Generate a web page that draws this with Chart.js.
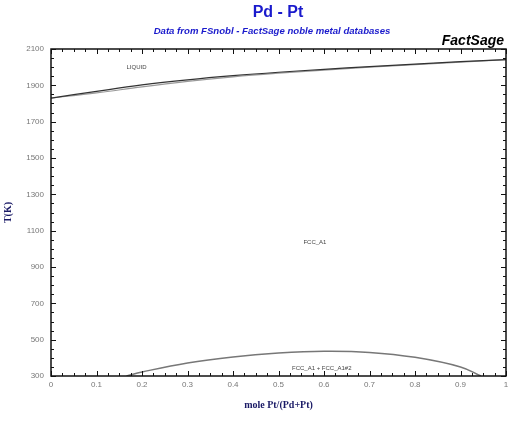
<!DOCTYPE html>
<html>
<head>
<meta charset="utf-8">
<script src="https://cdn.jsdelivr.net/npm/chart.js@4.4.1/dist/chart.umd.min.js"></script>
<style>
html,body{margin:0;padding:0;background:#fff;}
#wrap{width:516px;height:422px;position:relative;}
</style>
</head>
<body>
<div id="wrap"><canvas id="c" width="516" height="422"></canvas></div>
<script>
// ---- data ----
const liquidusX = [0, 0.1, 0.2, 0.3, 0.4, 0.5, 0.6, 0.7, 0.8, 0.9, 1];
const liquidusT = [1830, 1867, 1902, 1930, 1953, 1972, 1988, 2003, 2017, 2030, 2042];
const solidusX  = [0, 0.1, 0.2, 0.3, 0.4, 0.5, 0.6, 0.7, 0.8, 0.9, 1];
const solidusT  = [1830, 1858, 1892, 1922, 1947, 1967, 1984, 2000, 2014, 2028, 2042];
const gapX = [0.166, 0.2, 0.3, 0.4, 0.5, 0.6, 0.7, 0.8, 0.9, 0.945];
const gapT = [300, 322, 372, 405, 426, 436, 430, 403, 350, 300];
const xTicks = [0, 0.1, 0.2, 0.3, 0.4, 0.5, 0.6, 0.7, 0.8, 0.9, 1];
const yTicks = [300, 500, 700, 900, 1100, 1300, 1500, 1700, 1900, 2100];
const phaseLabels = ["LIQUID", "FCC_A1", "FCC_A1 + FCC_A1#2"];
const phaseLabelPos = [[0.188, 2000], [0.58, 1035], [0.595, 340]];
const titleText = "Pd - Pt";
const subtitleText = "Data from FSnobl - FactSage noble metal databases";
const brandText = "FactSage";
const xTitle = "mole Pt/(Pd+Pt)";
const yTitle = "T(K)";

function pts(xs, ys){ return xs.map((x,i)=>({x:x, y:ys[i]})); }

const framePlugin = {
  id: 'frame',
  afterDraw(chart){
    const ctx = chart.ctx;
    const xs = chart.scales.x, ys = chart.scales.y;
    const a = chart.chartArea;
    ctx.save();
    ctx.strokeStyle = '#111';
    ctx.lineWidth = 1.5;
    ctx.strokeRect(a.left, a.top, a.right - a.left, a.bottom - a.top);
    ctx.lineWidth = 1;
    for (let v = xs.min; v <= xs.max + 1e-9; v += 0.025) {
      const major = Math.abs(v*10 - Math.round(v*10)) < 1e-6;
      const len = major ? 5 : 3;
      const px = Math.round(xs.getPixelForValue(v)) + 0.5;
      ctx.beginPath();
      ctx.moveTo(px, a.bottom); ctx.lineTo(px, a.bottom - len);
      ctx.moveTo(px, a.top); ctx.lineTo(px, a.top + len);
      ctx.stroke();
    }
    for (let v = ys.min; v <= ys.max + 1e-9; v += 50) {
      const major = ((v - 300) % 200) === 0;
      const len = major ? 5 : 3;
      const py = Math.round(ys.getPixelForValue(v)) + 0.5;
      ctx.beginPath();
      ctx.moveTo(a.left, py); ctx.lineTo(a.left + len, py);
      ctx.moveTo(a.right, py); ctx.lineTo(a.right - len, py);
      ctx.stroke();
    }
    ctx.fillStyle = '#444';
    ctx.font = '6px "Liberation Sans", Arial, sans-serif';
    ctx.textAlign = 'center';
    ctx.textBaseline = 'middle';
    phaseLabels.forEach((t,i)=>{
      ctx.fillText(t, xs.getPixelForValue(phaseLabelPos[i][0]), ys.getPixelForValue(phaseLabelPos[i][1]));
    });
    ctx.fillStyle = '#1a1acc';
    ctx.font = 'bold 16px "Liberation Sans", Arial, sans-serif';
    ctx.fillText(titleText, 278, 13);
    ctx.font = 'italic bold 9.6px "Liberation Sans", Arial, sans-serif';
    ctx.fillText(subtitleText, 272, 31);
    ctx.fillStyle = '#000';
    ctx.font = 'italic bold 14px "Liberation Sans", Arial, sans-serif';
    ctx.textAlign = 'right';
    ctx.textBaseline = 'alphabetic';
    ctx.fillText(brandText, 504, 45);
    ctx.restore();
  }
};

new Chart(document.getElementById('c'), {
  type: 'scatter',
  data: {
    datasets: [
      { label: 'liquidus', data: pts(liquidusX, liquidusT), showLine: true, borderColor: '#333', borderWidth: 1.2, pointRadius: 0, tension: 0.4 },
      { label: 'solidus', data: pts(solidusX, solidusT), showLine: true, borderColor: '#999', borderWidth: 1.2, pointRadius: 0, tension: 0.4 },
      { label: 'gap', data: pts(gapX, gapT), showLine: true, borderColor: '#777', borderWidth: 1.5, pointRadius: 0, tension: 0.4 }
    ]
  },
  options: {
    responsive: false,
    animation: false,
    devicePixelRatio: 1,
    layout: { padding: { top: 49, right: 10, left: 0, bottom: 0 } },
    plugins: { legend: { display: false }, tooltip: { enabled: false }, title: { display: false } },
    scales: {
      x: {
        type: 'linear', min: 0, max: 1,
        afterFit(s){ s.height = 46; },
        afterBuildTicks(s){ s.ticks = xTicks.map(v=>({value:v})); },
        grid: { display: false, drawTicks: false },
        border: { display: false },
        ticks: { padding: 4, color: '#777', font: { size: 8, family: '"Liberation Sans", Arial, sans-serif' },
                 callback: v => String(Number(v.toFixed(1))), maxRotation: 0, autoSkip: false },
        title: { display: true, text: xTitle, color: '#1a1a66', padding: { top: 0, bottom: 11 },
                 font: { size: 10, weight: 'bold', family: '"Liberation Serif", "Times New Roman", serif' } }
      },
      y: {
        type: 'linear', min: 300, max: 2100,
        afterFit(s){ s.width = 51; },
        afterBuildTicks(s){ s.ticks = yTicks.map(v=>({value:v})); },
        grid: { display: false, drawTicks: false },
        border: { display: false },
        ticks: { padding: 7, color: '#777', font: { size: 8, family: '"Liberation Sans", Arial, sans-serif' },
                 callback: v => String(v), autoSkip: false },
        title: { display: true, text: yTitle, color: '#1a1a66', padding: { top: 2, bottom: 0 },
                 font: { size: 10, weight: 'bold', family: '"Liberation Serif", "Times New Roman", serif' } }
      }
    }
  },
  plugins: [framePlugin]
});
</script>
</body>
</html>
